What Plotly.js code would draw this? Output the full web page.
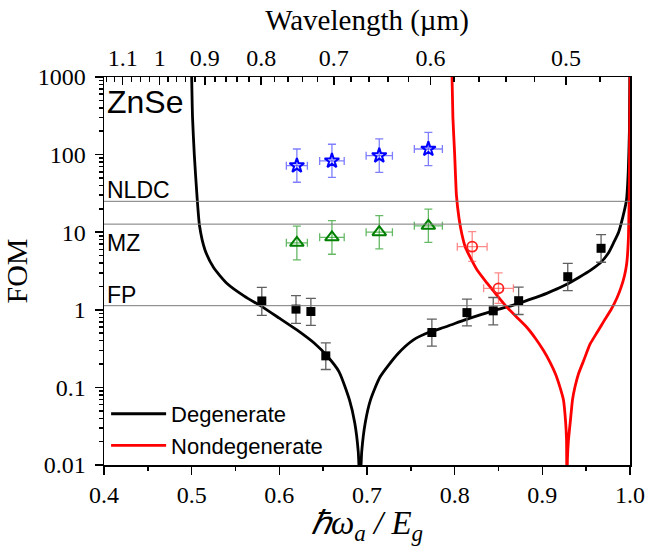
<!DOCTYPE html>
<html>
<head>
<meta charset="utf-8">
<script src="https://cdn.plot.ly/plotly-3.0.1.min.js"></script>
<style>html,body{margin:0;padding:0;background:#fff;}#chart{width:646px;height:546px;}</style>
</head>
<body>
<div id="chart"></div>
<script>
// ---- Theory curves ----
const degX = [0.500, 0.501, 0.503, 0.506, 0.509, 0.515, 0.525, 0.540, 0.560, 0.580, 0.600, 0.620, 0.640, 0.655, 0.668, 0.680, 0.686, 0.690, 0.692,
              0.694, 0.698, 0.704, 0.715, 0.735, 0.753, 0.770, 0.791, 0.810, 0.829, 0.848, 0.867, 0.885, 0.905, 0.925, 0.943, 0.956, 0.966, 0.975, 0.981, 0.987, 0.992, 0.996, 0.998, 0.9993, 0.9998];
const degY = [1000, 300, 100, 30, 12, 6, 3.5, 2.2, 1.5, 1.1, 0.78, 0.55, 0.37, 0.25, 0.16, 0.069, 0.035, 0.015, 0.005,
              0.015, 0.035, 0.069, 0.137, 0.27, 0.41, 0.51, 0.61, 0.73, 0.86, 1.0, 1.15, 1.35, 1.63, 2.05, 2.67, 3.3, 4.0, 5.3, 7.2, 10, 16, 26, 60, 200, 1000];

const ndX = [0.797, 0.798, 0.800, 0.802, 0.805, 0.808, 0.812, 0.8175, 0.826, 0.837, 0.848, 0.859, 0.870, 0.882, 0.892, 0.901, 0.9087, 0.915, 0.9201, 0.9241, 0.9264, 0.9276, 0.928,
             0.9286, 0.9298, 0.9321, 0.9344, 0.9372, 0.9412, 0.9475, 0.9544, 0.9624, 0.9704, 0.9783, 0.9852, 0.9897, 0.9937, 0.9963, 0.998, 0.9990, 0.9995, 1.0];
const ndY = [1000, 300, 100, 30, 15, 9.7, 6.5, 4.8, 3.2, 2.2, 1.55, 1.1, 0.82, 0.6, 0.43, 0.303, 0.212, 0.149, 0.101, 0.069, 0.038, 0.021, 0.004,
             0.012, 0.021, 0.038, 0.069, 0.101, 0.149, 0.227, 0.36, 0.51, 0.72, 1.0, 1.43, 1.93, 2.75, 4.0, 7.5, 24, 105, 1000];

// ---- Experimental points ----
const fpX = [0.580, 0.619, 0.636, 0.653, 0.774, 0.814, 0.844, 0.873, 0.929, 0.967];
const fpY = [1.30, 1.02, 0.95, 0.255, 0.51, 0.92, 0.97, 1.31, 2.67, 6.2];
const fpErrPlus  = [0.65, 0.50, 0.45, 0.12, 0.25, 0.45, 0.47, 0.65, 1.3, 3.1];
const fpErrMinus = [0.45, 0.35, 0.32, 0.085, 0.17, 0.30, 0.33, 0.44, 0.9, 2.1];

const nldcX = [0.620, 0.660, 0.714, 0.770];
const nldcY = [72, 83, 97, 118];
const nldcErrPlus  = [46, 53, 62, 75];
const nldcErrMinus = [28, 32, 38, 46];
const nldcErrX = [0.012, 0.014, 0.015, 0.016];

const mzX = [0.620, 0.660, 0.714, 0.770];
const mzY = [7.3, 8.6, 10.0, 12.1];
const mzErrPlus  = [4.7, 5.5, 6.4, 7.7];
const mzErrMinus = [2.9, 3.4, 3.9, 4.7];
const mzErrX = [0.012, 0.014, 0.015, 0.016];

const ndPtsX = [0.820, 0.850];
const ndPtsY = [6.5, 1.89];
const ndPtsErrPlus  = [3.7, 1.1];
const ndPtsErrMinus = [2.3, 0.68];
const ndPtsErrX = [0.017, 0.017];

// ---- Threshold lines ----
const thresholdNames = ["NLDC", "MZ", "FP"];
const thresholdValues = [25, 12.7, 1.13];

// ---- Axis ticks ----
const xTicks = [0.4, 0.5, 0.6, 0.7, 0.8, 0.9, 1.0];
const xTickText = ["0.4", "0.5", "0.6", "0.7", "0.8", "0.9", "1.0"];
const yTicks = [0.01, 0.1, 1, 10, 100, 1000];
const yTickText = ["0.01", "0.1", "1", "10", "100", "1000"];
const wlTicks = [1.1, 1.0, 0.9, 0.8, 0.7, 0.6, 0.5];
const wlTickText = ["1.1", "1", "0.9", "0.8", "0.7", "0.6", "0.5"];
const wlMinor = [1.15, 1.125, 1.075, 1.05, 1.025, 0.98, 0.96, 0.94, 0.92, 0.88, 0.86, 0.84, 0.82, 0.78, 0.76, 0.74, 0.72,
                 0.68, 0.66, 0.64, 0.62, 0.58, 0.56, 0.54, 0.52, 0.48];
const EG = 2.675;      // eV, ZnSe band gap used for the wavelength axis
const HC = 1.2398;     // eV·µm
const toX = wl => HC / (EG * wl);

const yMinor = [];
for (let d = -2; d < 3; d++) for (let m = 2; m <= 9; m++) yMinor.push(m * Math.pow(10, d));

const serif = "Liberation Serif, Times New Roman, serif";
const sans = "Liberation Sans, Arial, sans-serif";

const traces = [
  {x: degX, y: degY, mode: "lines", name: "Degenerate", line: {color: "#000", width: 2.8, shape: "spline", smoothing: 0.6}},
  {x: ndX, y: ndY, mode: "lines", name: "Nondegenerate", line: {color: "#ff0000", width: 2.8, shape: "spline", smoothing: 0.5}},
  {x: fpX, y: fpY, mode: "markers", showlegend: false,
   marker: {symbol: "square", size: 9, color: "#000"},
   error_y: {type: "data", symmetric: false, array: fpErrPlus, arrayminus: fpErrMinus, color: "#606060", thickness: 1.3, width: 5}},
  {x: nldcX, y: nldcY, mode: "markers", showlegend: false,
   marker: {symbol: "star-open", size: 11, color: "#0000ff", line: {width: 2, color: "#0000ff"}},
   error_y: {type: "data", symmetric: false, array: nldcErrPlus, arrayminus: nldcErrMinus, color: "rgba(40,40,255,0.6)", thickness: 1.3, width: 4},
   error_x: {type: "data", array: nldcErrX, color: "rgba(40,40,255,0.6)", thickness: 1.3, width: 4}},
  {x: mzX, y: mzY, mode: "markers", showlegend: false,
   marker: {symbol: "triangle-up-open", size: 12, color: "#008000", line: {width: 2, color: "#008000"}},
   error_y: {type: "data", symmetric: false, array: mzErrPlus, arrayminus: mzErrMinus, color: "rgba(0,140,0,0.6)", thickness: 1.3, width: 4},
   error_x: {type: "data", array: mzErrX, color: "rgba(0,140,0,0.6)", thickness: 1.3, width: 4}},
  {x: ndPtsX, y: ndPtsY, mode: "markers", showlegend: false,
   marker: {symbol: "circle-open", size: 10, color: "#ff2020", line: {width: 1.8, color: "#ff2020"}},
   error_y: {type: "data", symmetric: false, array: ndPtsErrPlus, arrayminus: ndPtsErrMinus, color: "rgba(255,60,60,0.6)", thickness: 1.3, width: 4},
   error_x: {type: "data", array: ndPtsErrX, color: "rgba(255,60,60,0.6)", thickness: 1.3, width: 4}},
  {x: [0.7], y: [1], xaxis: "x2", mode: "markers", marker: {opacity: 0}, showlegend: false, hoverinfo: "skip"}
];

const shapes = thresholdValues.map(v => ({
  type: "line", xref: "paper", yref: "y", x0: 0, x1: 1, y0: v, y1: v,
  line: {color: "#7a7a7a", width: 1}
}));

const ann = [{text: "ZnSe", xref: "paper", yref: "paper", x: 0.002, y: 0.936, xanchor: "left", yanchor: "middle",
              showarrow: false, font: {family: sans, size: 32, color: "#000"}}];
const labelY = [0.709, 0.573, 0.438];
thresholdNames.forEach((n, i) => ann.push({text: n, xref: "paper", yref: "paper", x: 0.002, y: labelY[i],
  xanchor: "left", yanchor: "middle", showarrow: false, font: {family: sans, size: 23, color: "#000"}}));

const layout = {
  width: 646, height: 546,
  margin: {l: 104, r: 16, t: 77, b: 81},
  paper_bgcolor: "#fff", plot_bgcolor: "#fff",
  showlegend: true,
  legend: {x: 0.004, y: -0.005, xanchor: "left", yanchor: "bottom", bgcolor: "rgba(0,0,0,0)", itemwidth: 55,
           font: {family: sans, size: 22, color: "#000"}, tracegroupgap: 0},
  xaxis: {range: [0.4, 1.0], tickvals: xTicks, ticktext: xTickText, ticks: "outside", ticklen: 8, tickwidth: 1.5,
          tickcolor: "#000", showline: true, linewidth: 1.5, linecolor: "#000", showgrid: false, zeroline: false,
          minor: {dtick: 0.05, tick0: 0.4, ticks: "outside", ticklen: 4, tickwidth: 1.5, tickcolor: "#000", showgrid: false},
          tickfont: {family: serif, size: 24, color: "#000"},
          title: {text: "<i>ℏω</i><sub><i>a</i></sub><i> / E</i><sub><i>g</i></sub>", font: {family: serif, size: 33, color: "#000"}, standoff: 4}},
  xaxis2: {overlaying: "x", side: "top", anchor: "y", range: [0.4, 1.0], tickvals: wlTicks.map(toX), ticktext: wlTickText,
           ticks: "inside", ticklen: 8, tickwidth: 1.5, tickcolor: "#000", showline: true, linewidth: 1.5, linecolor: "#000",
           showgrid: false, zeroline: false,
           minor: {tickvals: wlMinor.map(toX), ticks: "inside", ticklen: 5, tickwidth: 1.5, tickcolor: "#000", showgrid: false},
           tickfont: {family: serif, size: 24, color: "#000"},
           title: {text: "Wavelength (µm)", font: {family: serif, size: 29, color: "#000"}, standoff: 6}},
  yaxis: {type: "log", range: [-2, 3], tickvals: yTicks, ticktext: yTickText, ticks: "outside", ticklen: 8, tickwidth: 1.5,
          tickcolor: "#000", showline: true, mirror: true, linewidth: 1.5, linecolor: "#000", showgrid: false, zeroline: false,
          ticklabelstandoff: 4,
          minor: {tickvals: yMinor, ticks: "outside", ticklen: 4, tickwidth: 1.5, tickcolor: "#000", showgrid: false},
          tickfont: {family: serif, size: 24, color: "#000"},
          title: {text: "FOM", font: {family: serif, size: 30, color: "#000"}, standoff: 8}},
  shapes: shapes,
  annotations: ann
};

Plotly.newPlot("chart", traces, layout, {displayModeBar: false, staticPlot: true}).then(gd => {
  // lengthen legend line samples to match the reference legend
  gd.querySelectorAll(".legend .legendlines path").forEach(p => p.setAttribute("d", "M5,0h55"));
});
</script>
</body>
</html>
